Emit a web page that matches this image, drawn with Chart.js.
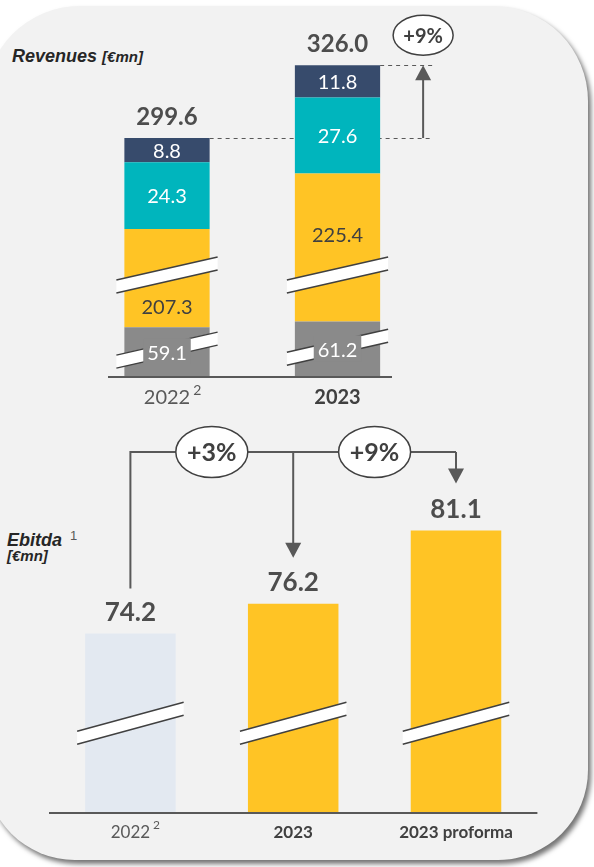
<!DOCTYPE html>
<html>
<head>
<meta charset="utf-8">
<script src="https://cdn.jsdelivr.net/npm/chart.js@4.4.1/dist/chart.umd.min.js"></script>
<style>
  html, body { margin: 0; padding: 0; background: #fff; width: 594px; height: 867px; overflow: hidden; position: relative; }
  #panel { position: absolute; left: -15px; top: 6px; width: 603px; height: 854px; background: #f2f2f2; border-radius: 95px 95px 90px 90px; box-shadow: 3px 4px 5px rgba(0,0,0,0.55); }
  #revChart { position: absolute; left: 0; top: 0; }
  #ebitdaChart { position: absolute; left: 0; top: 420px; }
  .ttl { position: absolute; font-family: "Liberation Sans", Arial, sans-serif; font-weight: bold; font-style: italic; color: #262626; font-size: 18px; line-height: 22px; white-space: nowrap; }
  .ttl small { font-size: 15px; }
  .ttl sup { font-style: normal; font-weight: normal; font-size: 13px; color: #595959; vertical-align: 6px; margin-left: 8px; }
</style>
</head>
<body>
<div id="panel"></div>
<div class="ttl" style="left:12px;top:45px">Revenues <small>[€mn]</small></div>
<div class="ttl" style="left:7px;top:525px">Ebitda<sup>1</sup><br><small style="position:relative;top:-7px">[€mn]</small></div>
<canvas id="revChart" width="594" height="420"></canvas>
<canvas id="ebitdaChart" width="594" height="447"></canvas>
<script>
// Revenues data
const revYears = ['2022', '2023']
const revYearNotes = ['2', '']
const revOther = [59.1, 61.2]
const revCore = [207.3, 225.4]
const revTeal = [24.3, 27.6]
const revNavy = [8.8, 11.8]
const revTotals = [299.6, 326.0]
const revGrowth = '+9%'
// broken axis: amount cut out of the gray and yellow blocks
const revCuts = [41.0, 171.6]

// Ebitda data
const ebitdaYears = ['2022', '2023', '2023 proforma']
const ebitdaNotes = ['2', '', '']
const ebitdaValues = [74.2, 76.2, 81.1]
const ebitdaGrowth = ['+3%', '+9%']
const ebitdaAxisStart = 62.2

const NUM_FONT = 'Lato, "Open Sans", sans-serif'
const DARK = '#404040'
const LINE = '#595959'

function breakBand(ctx, x0, x1, yc, rise, gap) {
    const yl = yc + rise / 2, yr = yc - rise / 2
    ctx.save()
    ctx.beginPath()
    ctx.moveTo(x0, yl - gap / 2); ctx.lineTo(x1, yr - gap / 2)
    ctx.lineTo(x1, yr + gap / 2); ctx.lineTo(x0, yl + gap / 2)
    ctx.closePath()
    ctx.fillStyle = '#fff'
    ctx.fill()
    ctx.strokeStyle = DARK
    ctx.lineWidth = 1.5
    ctx.beginPath()
    ctx.moveTo(x0, yl - gap / 2); ctx.lineTo(x1, yr - gap / 2)
    ctx.moveTo(x0, yl + gap / 2); ctx.lineTo(x1, yr + gap / 2)
    ctx.stroke()
    ctx.restore()
}

function bubble(ctx, x, y, rx, ry, text, size) {
    ctx.save()
    ctx.beginPath()
    ctx.ellipse(x, y, rx, ry, 0, 0, Math.PI * 2)
    ctx.fillStyle = '#fff'
    ctx.fill()
    ctx.strokeStyle = DARK
    ctx.lineWidth = 1.5
    ctx.stroke()
    ctx.fillStyle = DARK
    ctx.font = 'bold ' + size + 'px ' + NUM_FONT
    ctx.textAlign = 'center'
    ctx.textBaseline = 'middle'
    ctx.fillText(text, x, y + 1)
    ctx.restore()
}

function arrowDown(ctx, x, y0, tip, up) {
    const dir = up ? -1 : 1
    ctx.save()
    ctx.strokeStyle = LINE
    ctx.fillStyle = LINE
    ctx.lineWidth = 2
    ctx.beginPath()
    ctx.moveTo(x, y0)
    ctx.lineTo(x, tip - dir * 12)
    ctx.stroke()
    ctx.beginPath()
    ctx.moveTo(x, tip)
    ctx.lineTo(x - 8, tip - dir * 15)
    ctx.lineTo(x + 8, tip - dir * 15)
    ctx.closePath()
    ctx.fill()
    ctx.restore()
}

function yearLabel(ctx, x, y, text, note, bold, size) {
    ctx.save()
    ctx.font = (bold ? 'bold ' : '') + size + 'px ' + NUM_FONT
    ctx.fillStyle = bold ? DARK : LINE
    ctx.textAlign = 'center'
    ctx.textBaseline = 'middle'
    ctx.fillText(text, x, y)
    if (note) {
        const w = ctx.measureText(text).width
        ctx.font = Math.round(size * 0.72) + 'px ' + NUM_FONT
        ctx.textAlign = 'left'
        ctx.fillText(note, x + w / 2 + 3, y - 8)
    }
    ctx.restore()
}

// Revenues chart
const revPlugin = {
    id: 'revDeco',
    beforeDatasetsDraw(chart) {
        const ctx = chart.ctx
        const tops = chart.getDatasetMeta(3).data
        const arrowX = tops[1].x + tops[1].width / 2 + 43
        ctx.save()
        ctx.setLineDash([4, 4])
        ctx.strokeStyle = LINE
        ctx.lineWidth = 1
        tops.forEach(b => {
            ctx.beginPath()
            ctx.moveTo(b.x + b.width / 2, Math.round(b.y) + 0.5)
            ctx.lineTo(arrowX + 9, Math.round(b.y) + 0.5)
            ctx.stroke()
        })
        ctx.restore()
    },
    afterDatasetsDraw(chart) {
        const ctx = chart.ctx
        const ys = chart.scales.y
        const base = ys.getPixelForValue(0)
        // axis line
        ctx.save()
        ctx.strokeStyle = LINE
        ctx.lineWidth = 2
        ctx.beginPath()
        ctx.moveTo(108, base)
        ctx.lineTo(392, base)
        ctx.stroke()
        ctx.restore()

        const gray = chart.getDatasetMeta(0).data
        const yellow = chart.getDatasetMeta(1).data
        const teal = chart.getDatasetMeta(2).data
        const navy = chart.getDatasetMeta(3).data

        ctx.save()
        ctx.textAlign = 'center'
        ctx.textBaseline = 'middle'
        ctx.font = '20px ' + NUM_FONT
        revYears.forEach((yr, i) => {
            const half = gray[i].width / 2
            const x0 = gray[i].x - half - 8, x1 = gray[i].x + half + 8
            // yellow block break
            breakBand(ctx, x0, x1, ys.getPixelForValue(37.1), 23, 13)
            const yb = yellow[i]
            const yy = i === 0 ? yb.base - 20 : yb.y + 62
            ctx.fillStyle = DARK
            ctx.fillText(revCore[i].toFixed(1), yb.x, yy)
            // gray block break, label sits on a gray patch
            const gy = (gray[i].y + gray[i].base) / 2
            breakBand(ctx, x0, x1, gy - 2, 23, 13)
            const t = revOther[i].toFixed(1)
            const tw = ctx.measureText(t).width
            ctx.fillStyle = '#8a8a8a'
            ctx.fillRect(gray[i].x - tw / 2 - 4, gy - 14, tw + 8, 26)
            ctx.fillStyle = '#fff'
            ctx.fillText(t, gray[i].x, gy + 1)
            ctx.fillText(revTeal[i].toFixed(1), teal[i].x, (teal[i].y + teal[i].base) / 2 + 1)
            ctx.fillText(revNavy[i].toFixed(1), navy[i].x, (navy[i].y + navy[i].base) / 2 + 1)
            // totals
            ctx.fillStyle = '#4d4d4d'
            ctx.font = 'bold 24px ' + NUM_FONT
            ctx.fillText(revTotals[i].toFixed(1), navy[i].x, navy[i].y - 21)
            ctx.font = '20px ' + NUM_FONT
            yearLabel(ctx, gray[i].x, base + 21, yr, revYearNotes[i], i === 1, 20)
        })
        ctx.restore()

        // growth arrow
        const arrowX = navy[1].x + navy[1].width / 2 + 43
        arrowDown(ctx, arrowX, navy[0].y, navy[1].y, true)
        bubble(ctx, arrowX, navy[1].y - 30, 30, 20, revGrowth, 20)
    }
}

const revCtx = document.getElementById('revChart').getContext('2d')
const revChart = new Chart(revCtx, {
    type: 'bar',
    data: {
        labels: revYears,
        datasets: [
            { data: revOther.map(v => v - revCuts[0]), backgroundColor: '#8a8a8a' },
            { data: revCore.map(v => v - revCuts[1]), backgroundColor: '#ffc425' },
            { data: revTeal, backgroundColor: '#00b5bd' },
            { data: revNavy, backgroundColor: '#374b6c' }
        ].map(d => Object.assign(d, { barPercentage: 0.5, categoryPercentage: 1, borderWidth: 0 }))
    },
    options: {
        responsive: false,
        animation: false,
        layout: { padding: { left: 81.75, right: 171.25, top: 19.5, bottom: 43 } },
        plugins: { legend: { display: false }, tooltip: { enabled: false } },
        scales: {
            x: { display: false, stacked: true },
            y: { display: false, stacked: true, min: 0, max: 130 }
        }
    },
    plugins: [revPlugin]
})

// Ebitda chart
const ebitdaPlugin = {
    id: 'ebitdaDeco',
    afterDatasetsDraw(chart) {
        const ctx = chart.ctx
        const ys = chart.scales.y
        const area = chart.chartArea
        const bars = chart.getDatasetMeta(0).data
        ctx.save()
        ctx.strokeStyle = LINE
        ctx.lineWidth = 2
        ctx.beginPath()
        ctx.moveTo(area.left, area.bottom)
        ctx.lineTo(area.right, area.bottom)
        ctx.stroke()
        ctx.restore()

        const bandY = ys.getPixelForValue(68.2)
        ctx.save()
        ctx.textAlign = 'center'
        ctx.textBaseline = 'middle'
        bars.forEach((b, i) => {
            breakBand(ctx, b.x - b.width / 2 - 8, b.x + b.width / 2 + 8, bandY, 29, 13)
            ctx.fillStyle = '#4d4d4d'
            ctx.font = 'bold 26px ' + NUM_FONT
            ctx.fillText(ebitdaValues[i].toFixed(1), b.x, b.y - 21)
            yearLabel(ctx, b.x, area.bottom + 20, ebitdaYears[i], ebitdaNotes[i], i > 0, 17)
        })
        ctx.restore()

        // growth connectors
        const lineY = 32
        ctx.save()
        ctx.strokeStyle = LINE
        ctx.lineWidth = 2
        ctx.beginPath()
        ctx.moveTo(bars[0].x, bars[0].y - 45)
        ctx.lineTo(bars[0].x, lineY)
        ctx.lineTo(bars[2].x, lineY)
        ctx.stroke()
        ctx.restore()
        arrowDown(ctx, bars[1].x, lineY, bars[1].y - 46, false)
        arrowDown(ctx, bars[2].x, lineY, bars[2].y - 47, false)
        bubble(ctx, (bars[0].x + bars[1].x) / 2, lineY, 36, 25.5, ebitdaGrowth[0], 25)
        bubble(ctx, (bars[1].x + bars[2].x) / 2, lineY, 36, 25.5, ebitdaGrowth[1], 25)
    }
}

const ebitdaCtx = document.getElementById('ebitdaChart').getContext('2d')
const ebitdaChart = new Chart(ebitdaCtx, {
    type: 'bar',
    data: {
        labels: ebitdaYears,
        datasets: [{
            data: ebitdaValues,
            backgroundColor: ['#e3e9f1', '#ffc425', '#ffc425'],
            barPercentage: 0.556,
            categoryPercentage: 1,
            borderWidth: 0
        }]
    },
    options: {
        responsive: false,
        animation: false,
        layout: { padding: { left: 49, right: 56.6, top: 67.1, bottom: 54 } },
        plugins: { legend: { display: false }, tooltip: { enabled: false } },
        scales: {
            x: { display: false },
            y: { display: false, min: ebitdaAxisStart, max: 84 }
        }
    },
    plugins: [ebitdaPlugin]
})
</script>
</body>
</html>
